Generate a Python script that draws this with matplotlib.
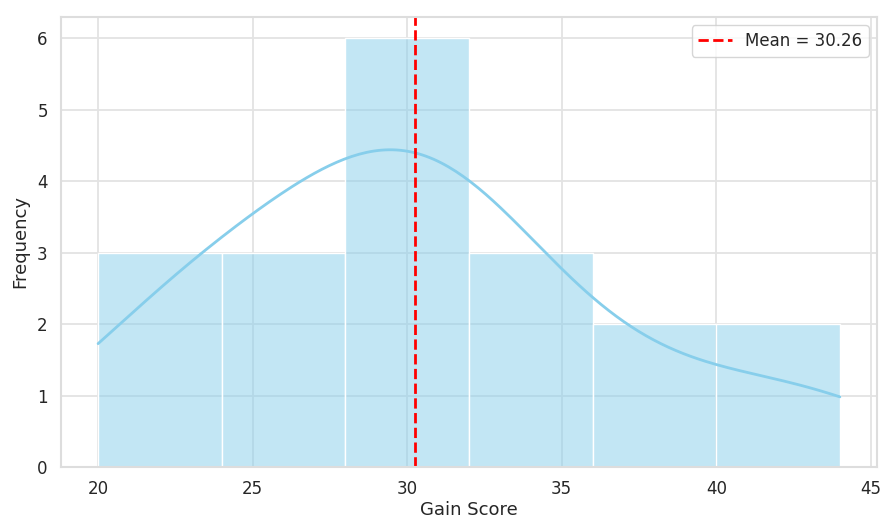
import matplotlib
matplotlib.use("Agg")
import matplotlib.pyplot as plt
import seaborn as sns
import numpy as np

# gain scores (19 students)
gain_scores = [20, 22, 23,
               24, 25, 27,
               28, 28, 29, 30, 31, 31,
               32, 32, 33,
               36, 38,
               42, 44]

sns.set_theme(style="whitegrid", rc={"grid.color": "#e3e3e3", "grid.linewidth": 1.3})
plt.rcParams['font.family'] = ['DejaVu Sans']

fig = plt.figure(figsize=(8.82, 5.20), dpi=100)
ax = fig.add_axes([61 / 882, (520 - 467) / 520, (877 - 61) / 882, (467 - 17) / 520])

sns.histplot(gain_scores, kde=True, color="skyblue", edgecolor="white",
             line_kws={"linewidth": 2}, ax=ax)

mean_val = np.mean(gain_scores)
ax.axvline(mean_val, color="red", linestyle="--", linewidth=2,
           label=f"Mean = {mean_val:.2f}")

for s in ax.spines.values():
    s.set_color("#dddddd")
    s.set_linewidth(1.5)

ax.set_xlabel("Gain Score", fontsize=13, labelpad=2)
ax.set_ylabel("Frequency", fontsize=13, labelpad=6)
ax.tick_params(labelsize=12)
ax.legend(loc="upper right", fontsize=12)

fig.savefig("out.png", dpi=100)
